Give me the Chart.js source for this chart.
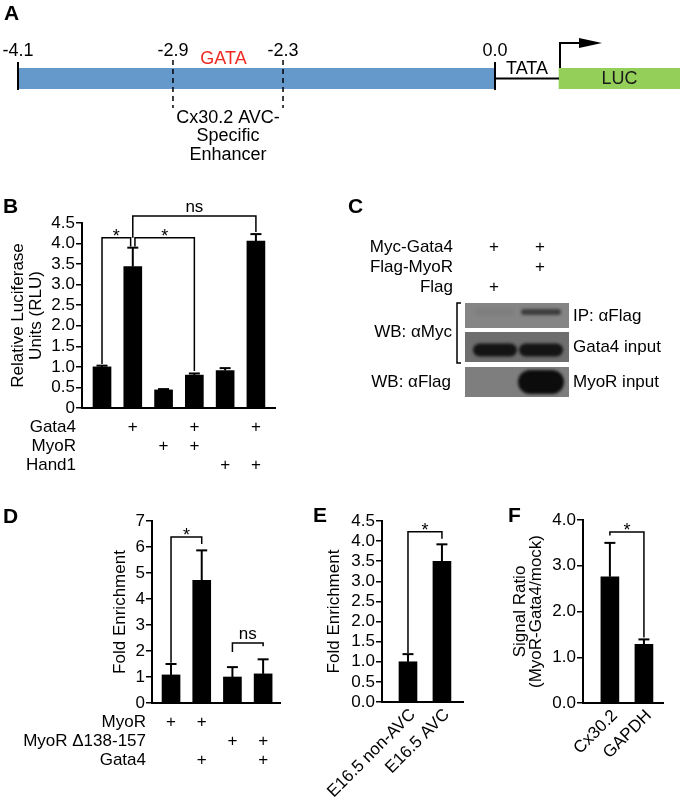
<!DOCTYPE html>
<html>
<head>
<meta charset="utf-8">
<script src="https://cdn.jsdelivr.net/npm/chart.js@4.4.0/dist/chart.umd.min.js"></script>
<style>
  html, body { margin: 0; padding: 0; background: #fff; }
  #fig { position: relative; width: 680px; height: 807px; overflow: hidden; }
  #fig canvas { position: absolute; left: 0; top: 0; }
</style>
</head>
<body>
<div id="fig">
  <canvas id="panelA" width="680" height="807"></canvas>
  <canvas id="panelB" width="680" height="807"></canvas>
  <canvas id="panelC" width="680" height="807"></canvas>
  <canvas id="panelD" width="680" height="807"></canvas>
  <canvas id="panelE" width="680" height="807"></canvas>
  <canvas id="panelF" width="680" height="807"></canvas>
</div>
<script>
// ---- A: reporter construct (schematic, not to scale) ----
const mapLabels = ['-4.1', '-2.9', '-2.3', '0.0'];
const mapLabelPos = [-4.1, -2.768, -1.822, 0.0];   // where each mark sits on the drawing
const promoterSpan = [-4.1, 0.0];
const gataSpan = [-2.415, -2.252];
const lucSpan = [0.55, 1.59];
const enhancerCaption = ['Cx30.2 AVC-', 'Specific', 'Enhancer'];

// ---- B: luciferase assay ----
const bRows = ['Gata4', 'MyoR', 'Hand1'];
const bPlus = [[0, 1, 0, 1, 0, 1], [0, 0, 1, 1, 0, 0], [0, 0, 0, 0, 1, 1]];
const bMeans = [1.0, 3.44, 0.44, 0.80, 0.91, 4.06];
const bErrors = [0.03, 0.46, 0.02, 0.04, 0.06, 0.17];
const bBrackets = [
  { from: 1, to: 1.93, level: 4.14, fromEnd: 1.07, toEnd: 3.93, label: '*' },
  { from: 2.07, to: 4, level: 4.14, fromEnd: 3.93, toEnd: 0.9, label: '*' },
  { from: 2, to: 6, level: 4.67, fromEnd: 4.14, toEnd: 4.28, label: 'ns' }
];

// ---- C: co-IP ----
const cRows = ['Myc-Gata4', 'Flag-MyoR', 'Flag'];
const cPlus = [[1, 1], [0, 1], [1, 0]];
const blotLabels = ['IP: \u03b1Flag', 'Gata4 input', 'MyoR input'];
const wbLabels = ['WB: \u03b1Myc', 'WB: \u03b1Flag'];
const bandSignal = [[0.06, 0.6], [0.92, 0.92], [0, 1]];

// ---- D: ChIP ----
const dRows = ['MyoR', 'MyoR \u0394138-157', 'Gata4'];
const dPlus = [[1, 1, 0, 0], [0, 0, 1, 1], [0, 1, 0, 1]];
const dMeans = [1.08, 4.72, 1.0, 1.12];
const dErrors = [0.42, 1.15, 0.38, 0.56];
const dBrackets = [
  { from: 1, to: 2, level: 6.38, fromEnd: 1.55, toEnd: 6.12, label: '*' },
  { from: 3, to: 4, level: 2.31, fromEnd: 1.96, toEnd: 2.18, label: 'ns' }
];

// ---- E: in vivo ChIP ----
const eCats = ['E16.5 non-AVC', 'E16.5 AVC'];
const eMeans = [1.0, 3.5];
const eErrors = [0.19, 0.42];
const eBrackets = [{ from: 1, to: 2, level: 4.23, fromEnd: 1.22, toEnd: 4.06, label: '*' }];

// ---- F: signal ratio ----
const fCats = ['Cx30.2', 'GAPDH'];
const fMeans = [2.76, 1.28];
const fErrors = [0.74, 0.11];
const fBrackets = [{ from: 1, to: 2, level: 3.74, fromEnd: 3.66, toEnd: 1.43, label: '*' }];

const W = 680, H = 807, YW = 60;
const FONT = '"Liberation Sans", Arial, Helvetica, sans-serif';
Chart.defaults.font.family = FONT;
Chart.defaults.font.size = 17;
Chart.defaults.color = '#000';

function fnt(size, bold) { return (bold ? 'bold ' : '') + size + 'px ' + FONT; }
function text(ctx, s, x, y, o = {}) {
  ctx.save();
  ctx.font = fnt(o.size || 17, o.bold);
  ctx.fillStyle = o.color || '#000';
  ctx.textAlign = o.align || 'center';
  ctx.textBaseline = o.base || 'middle';
  ctx.translate(x, y);
  if (o.rot) ctx.rotate(o.rot);
  ctx.fillText(s, 0, 0);
  ctx.restore();
}
function seg(ctx, pts) {
  ctx.beginPath();
  ctx.moveTo(pts[0][0], pts[0][1]);
  for (let i = 1; i < pts.length; i++) ctx.lineTo(pts[i][0], pts[i][1]);
  ctx.stroke();
}

// ---------- Panel A ----------
const constructDecor = {
  id: 'constructDecor',
  afterDatasetsDraw(chart) {
    const ctx = chart.ctx, xs = chart.scales.x;
    const { top, bottom } = chart.chartArea;
    const px = v => xs.getPixelForValue(v);
    const mid = (top + bottom) / 2;
    ctx.save();
    ctx.strokeStyle = '#000';
    ctx.lineWidth = 2;
    promoterSpan.forEach(v => seg(ctx, [[px(v), top - 6], [px(v), bottom + 1]]));
    mapLabels.forEach((l, i) => text(ctx, l, px(mapLabelPos[i]), 51, { size: 18 }));
    // TATA line and start arrow
    seg(ctx, [[px(promoterSpan[1]), mid], [px(lucSpan[0]), mid]]);
    const ax = px(lucSpan[0]) + 1;
    seg(ctx, [[ax, top], [ax, top - 25], [ax + 22, top - 25]]);
    ctx.fillStyle = '#000';
    ctx.beginPath();
    ctx.moveTo(ax + 19, top - 30);
    ctx.lineTo(ax + 42, top - 25);
    ctx.lineTo(ax + 19, top - 20);
    ctx.closePath();
    ctx.fill();
    // enhancer bounds
    ctx.lineWidth = 1.5;
    ctx.setLineDash([5, 4]);
    [mapLabelPos[1], mapLabelPos[2]].forEach(v => seg(ctx, [[px(v), 60], [px(v), 108]]));
    ctx.setLineDash([]);
    ctx.restore();
    text(ctx, 'GATA', (px(gataSpan[0]) + px(gataSpan[1])) / 2, 59, { size: 18, color: '#ee2a22' });
    const cx = (px(mapLabelPos[1]) + px(mapLabelPos[2])) / 2;
    enhancerCaption.forEach((l, i) => text(ctx, l, cx, 118 + i * 18.5, { size: 18 }));
    text(ctx, 'TATA', (px(promoterSpan[1]) + px(lucSpan[0])) / 2, top + 1, { size: 18 });
    text(ctx, 'LUC', (px(lucSpan[0]) + px(lucSpan[1])) / 2, mid + 1, { size: 18, color: '#1a1a1a' });
  }
};

new Chart(document.getElementById('panelA'), {
  type: 'bar',
  data: {
    labels: ['construct'],
    datasets: [
      { data: [promoterSpan], backgroundColor: '#6598cb' },
      { data: [gataSpan], backgroundColor: '#ff2a00' },
      { data: [lucSpan], backgroundColor: '#94cf5a' }
    ]
  },
  options: {
    indexAxis: 'y',
    responsive: false, animation: false, events: [],
    layout: { padding: { left: 18, right: 0, top: 68, bottom: H - 89 } },
    datasets: { bar: { grouped: false, barPercentage: 1, categoryPercentage: 1, borderWidth: 0 } },
    plugins: { legend: { display: false }, tooltip: { enabled: false } },
    scales: {
      x: { type: 'linear', min: -4.1, max: 1.59, display: false },
      y: { display: false }
    }
  },
  plugins: [constructDecor]
});

// ---------- bar panels B, D, E, F ----------
function barDecor(o) {
  return {
    id: 'barDecor',
    afterDatasetsDraw(chart) {
      const ctx = chart.ctx, xs = chart.scales.x, ys = chart.scales.y;
      const { top, bottom, left } = chart.chartArea;
      const px = v => xs.getPixelForValue(v), py = v => ys.getPixelForValue(v);
      ctx.save();
      ctx.strokeStyle = '#000';
      ctx.lineWidth = 2;
      o.means.forEach((m, i) => {
        const x = px(i + 1), yt = py(m + o.errors[i]);
        seg(ctx, [[x, py(m)], [x, yt]]);
        seg(ctx, [[x - 5.5, yt], [x + 5.5, yt]]);
      });
      ctx.lineWidth = 1.5;
      o.brackets.forEach(b => {
        const xa = px(b.from), xb = px(b.to), yl = py(b.level);
        seg(ctx, [[xa, py(b.fromEnd)], [xa, yl], [xb, yl], [xb, py(b.toEnd)]]);
        if (b.label === '*') text(ctx, '*', (xa + xb) / 2, yl + 4, { size: 18, base: 'alphabetic' });
        else text(ctx, b.label, (xa + xb) / 2, yl - 4, { size: 17, base: 'alphabetic' });
      });
      ctx.restore();
      // axis title
      const cy = (top + bottom) / 2;
      o.title.forEach((t, i) => text(ctx, t, o.titleX[i], cy, { rot: -Math.PI / 2 }));
      // condition rows
      if (o.rows) {
        o.rows.forEach((r, ri) => {
          const y = bottom + 19 + ri * 19;
          text(ctx, r, left - 6, y, { align: 'right' });
          o.plus[ri].forEach((p, i) => { if (p) text(ctx, '+', px(i + 1), y); });
        });
      }
      if (o.cats) {
        o.cats.forEach((c, i) => text(ctx, c, px(i + 1) + 5, bottom + 10, { align: 'right', rot: -Math.PI / 4 }));
      }
    }
  };
}

function barPanel(id, o) {
  return new Chart(document.getElementById(id), {
    type: 'bar',
    data: {
      datasets: [{
        data: o.means.map((v, i) => ({ x: i + 1, y: v })),
        backgroundColor: '#000', borderWidth: 0, barThickness: 18
      }]
    },
    options: {
      responsive: false, animation: false, events: [],
      layout: { padding: { left: o.area[0] - YW, top: o.area[1], right: W - o.area[2], bottom: H - o.area[3] } },
      plugins: { legend: { display: false }, tooltip: { enabled: false } },
      scales: {
        x: {
          type: 'linear', min: o.xRange[0], max: o.xRange[1], offset: false,
          grid: { display: false }, ticks: { display: false },
          border: { color: '#000', width: 2 },
          afterFit(s) { s.height = 0; }
        },
        y: {
          min: 0, max: o.yMax,
          grid: { drawOnChartArea: false, tickLength: 6, color: '#000', lineWidth: 1.5 },
          border: { color: '#000', width: 2 },
          ticks: { stepSize: o.step, padding: 1, autoSkip: false, color: '#000', font: { size: 17 }, callback: o.fmt },
          afterFit(s) { s.width = YW; }
        }
      }
    },
    plugins: [barDecor(o)]
  });
}

barPanel('panelB', {
  means: bMeans, errors: bErrors, brackets: bBrackets, rows: bRows, plus: bPlus,
  area: [82, 223, 275, 408], xRange: [0.35, 6.62], yMax: 4.5, step: 0.5,
  fmt: v => (v === 0 ? '0' : v.toFixed(1)),
  title: ['Relative Luciferase', 'Units (RLU)'], titleX: [18, 36]
});
barPanel('panelD', {
  means: dMeans, errors: dErrors, brackets: dBrackets, rows: dRows, plus: dPlus,
  area: [152, 521, 280, 703], xRange: [0.38, 4.55], yMax: 7, step: 1,
  fmt: v => String(v),
  title: ['Fold Enrichment'], titleX: [120]
});
barPanel('panelE', {
  means: eMeans, errors: eErrors, brackets: eBrackets, cats: eCats,
  area: [382, 521, 463, 702], xRange: [0.235, 2.62], yMax: 4.5, step: 0.5,
  fmt: v => v.toFixed(1),
  title: ['Fold Enrichment'], titleX: [334]
});
barPanel('panelF', {
  means: fMeans, errors: fErrors, brackets: fBrackets, cats: fCats,
  area: [583, 520, 663, 703], xRange: [0.21, 2.56], yMax: 4, step: 1,
  fmt: v => v.toFixed(1),
  title: ['Signal Ratio', '(MyoR-Gata4/mock)'], titleX: [520, 536]
});

// ---------- Panel C (western blot) and panel letters ----------
(function drawPanelC() {
  const ctx = document.getElementById('panelC').getContext('2d');
  const letters = [['A', 4, 20], ['B', 3, 213], ['C', 348, 213], ['D', 3, 523], ['E', 313, 522], ['F', 508, 522]];
  letters.forEach(([l, x, y]) => text(ctx, l, x, y, { size: 21, bold: true, align: 'left', base: 'alphabetic' }));

  const laneX = [495, 541];
  cRows.forEach((r, ri) => {
    const y = 247 + ri * 20;
    text(ctx, r, 453, y, { align: 'right' });
    cPlus[ri].forEach((p, li) => { if (p) text(ctx, '+', laneX[li] - 1, y); });
  });

  const boxes = [[303, 328, '#858585'], [332, 362, '#6e6e6e'], [367, 397, '#7e7e7e']];
  const bands = [{ cy: 312, h: 6, w: 40 }, { cy: 350, h: 13, w: 44 }, { cy: 382, h: 24, w: 46 }];
  boxes.forEach(([y0, y1, bg], bi) => {
    ctx.save();
    ctx.beginPath();
    ctx.rect(465, y0, 104, y1 - y0);
    ctx.fillStyle = bg;
    ctx.fill();
    ctx.clip();
    bandSignal[bi].forEach((s, li) => {
      if (!s) return;
      const b = bands[bi];
      ctx.filter = 'blur(1.5px)';
      ctx.fillStyle = 'rgba(12,12,12,' + s + ')';
      ctx.beginPath();
      ctx.roundRect(laneX[li] - b.w / 2, b.cy - b.h / 2, b.w, b.h, b.h / 2);
      ctx.fill();
    });
    ctx.restore();
    text(ctx, blotLabels[bi], 573, (y0 + y1) / 2 + (bi === 0 ? 1 : 0), { align: 'left' });
  });
  ctx.strokeStyle = '#000';
  ctx.lineWidth = 1.5;
  seg(ctx, [[461, 303], [457, 303], [457, 363], [461, 363]]);
  text(ctx, wbLabels[0], 452, 332, { align: 'right' });
  text(ctx, wbLabels[1], 451, 382, { align: 'right' });
})();
</script>
</body>
</html>
